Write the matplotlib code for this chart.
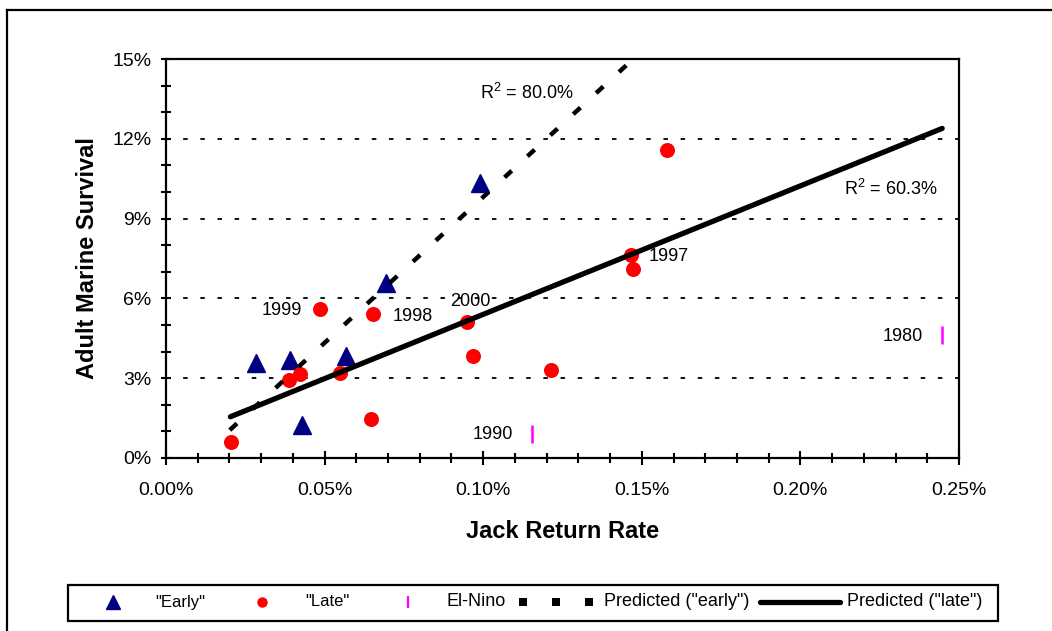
import matplotlib
matplotlib.use('Agg')
import matplotlib.pyplot as plt
from matplotlib.lines import Line2D
from matplotlib.patches import Rectangle
from matplotlib.ticker import MultipleLocator, FormatStrFormatter

plt.rcParams['font.family'] = ['Liberation Sans', 'DejaVu Sans']
plt.rcParams['mathtext.fontset'] = 'custom'
plt.rcParams['mathtext.rm'] = 'Liberation Sans'

# jack return rate (%) vs adult marine survival (%)
early_x = [0.0285, 0.0390, 0.0430, 0.0568, 0.0695, 0.0991]
early_y = [3.57, 3.68, 1.24, 3.83, 6.58, 10.34]

late_x = [0.0205, 0.0387, 0.0421, 0.0484, 0.0547, 0.0647, 0.0653,
          0.0949, 0.0968, 0.1215, 0.1466, 0.1472, 0.1579]
late_y = [0.61, 2.93, 3.16, 5.60, 3.18, 1.45, 5.41,
          5.12, 3.85, 3.31, 7.63, 7.09, 11.58]

nino_x = [0.1155, 0.2447]
nino_y = [0.90, 4.62]

pred_early_x = [0.0201, 0.1462]
pred_early_y = [1.05, 14.88]
pred_late_x = [0.0203, 0.2447]
pred_late_y = [1.55, 12.39]

# year labels: text, x, y, alignment
years = [('1999', 0.0430, 5.56, 'right'),
         ('1998', 0.0716, 5.31, 'left'),
         ('2000', 0.0959, 5.90, 'center'),
         ('1997', 0.1520, 7.57, 'left'),
         ('1990', 0.1095, 0.87, 'right'),
         ('1980', 0.2387, 4.56, 'right')]

W, H = 1052, 631
fig = plt.figure(figsize=(W / 100, H / 100), dpi=100)

ax = fig.add_axes([166 / W, 1 - 458 / H, 793 / W, 399 / H])

ax.plot(early_x, early_y, linestyle='none', marker='^', ms=12.5,
        color='#000080', zorder=3)
ax.plot(late_x, late_y, linestyle='none', marker='o', ms=10.8,
        color='#FF0000', markeredgewidth=0, zorder=3)
ax.plot(nino_x, nino_y, linestyle='none', marker='|', ms=13,
        mew=1.8, color='#FF00FF', zorder=3)

ax.plot(pred_early_x, pred_early_y, color='black', lw=3.2,
        linestyle=(0, (2.2, 4.8)), zorder=4)
ax.plot(pred_late_x, pred_late_y, color='black', lw=3.8,
        solid_capstyle='round', zorder=4)

for t, x, y, ha in years:
    ax.text(x, y, t, fontsize=13, ha=ha, va='center')

ax.text(0.0991, 13.74, r'R$^{2}$ = 80.0%', fontsize=13, va='center')
ax.text(0.2138, 10.13, r'R$^{2}$ = 60.3%', fontsize=13, va='center')

ax.set_xlim(0, 0.25)
ax.set_ylim(0, 15)
ax.xaxis.set_major_locator(MultipleLocator(0.05))
ax.xaxis.set_minor_locator(MultipleLocator(0.01))
ax.yaxis.set_major_locator(MultipleLocator(3))
ax.yaxis.set_minor_locator(MultipleLocator(1))
ax.xaxis.set_major_formatter(FormatStrFormatter('%.2f%%'))
ax.yaxis.set_major_formatter(FormatStrFormatter('%d%%'))

ax.tick_params(axis='both', which='both', direction='inout', width=1.5,
               labelsize=14)
ax.tick_params(axis='y', which='both', length=7.2, pad=7)
ax.tick_params(axis='x', which='major', length=10, pad=12)
ax.tick_params(axis='x', which='minor', length=7.2)

ax.grid(axis='y', which='major', color='black', lw=1.3,
        linestyle=(0, (2.5, 7)))
for s in ax.spines.values():
    s.set_linewidth(1.6)

ax.set_xlabel('Jack Return Rate', fontsize=17, fontweight='bold')
ax.set_ylabel('Adult Marine Survival', fontsize=17, fontweight='bold')
ax.xaxis.set_label_coords(0.5, (458 - 531) / 399)
ax.yaxis.set_label_coords((88 - 166) / 793, 0.5)
ax.xaxis.label.set_va('center')
ax.yaxis.label.set_va('center')

# outer frame
fig.add_artist(Line2D([7 / W, 7 / W], [0, 1 - 10 / H], color='black',
                      lw=1.6, transform=fig.transFigure))
fig.add_artist(Line2D([7 / W, 1], [1 - 10 / H, 1 - 10 / H], color='black',
                      lw=1.6, transform=fig.transFigure))

# legend
fig.add_artist(Rectangle((68 / W, 1 - 621 / H), 930 / W, 36 / H,
                         fill=False, edgecolor='black', lw=1.6,
                         transform=fig.transFigure))
fy_leg = 1 - 602 / H
fig.add_artist(Line2D([113 / W], [fy_leg], marker='^',
                      ms=9.5, color='#000080', linestyle='none',
                      transform=fig.transFigure))
fig.add_artist(Line2D([262 / W], [fy_leg], marker='o',
                      ms=7.5, color='#FF0000', mew=0, linestyle='none',
                      transform=fig.transFigure))
fig.add_artist(Line2D([408 / W], [fy_leg], marker='|',
                      ms=9, mew=1.6, color='#FF00FF', linestyle='none',
                      transform=fig.transFigure))
sq = [523, 556, 589]
fig.add_artist(Line2D([s / W for s in sq], [fy_leg] * 3,
                      marker='s', ms=5.2, mew=0, color='black',
                      linestyle='none', transform=fig.transFigure))
fig.add_artist(Line2D([760 / W, 840 / W], [fy_leg] * 2, color='black',
                      lw=3.8, solid_capstyle='round',
                      transform=fig.transFigure))
for t, lx, fs in [('"Early"', 155, 12), ('"Late"', 305, 12),
                  ('El-Nino', 446, 13), ('Predicted ("early")', 604, 13),
                  ('Predicted ("late")', 847, 13)]:
    fig.text(lx / W, fy_leg, t, fontsize=fs, ha='left', va='center')

fig.savefig('out.png', dpi=100)
